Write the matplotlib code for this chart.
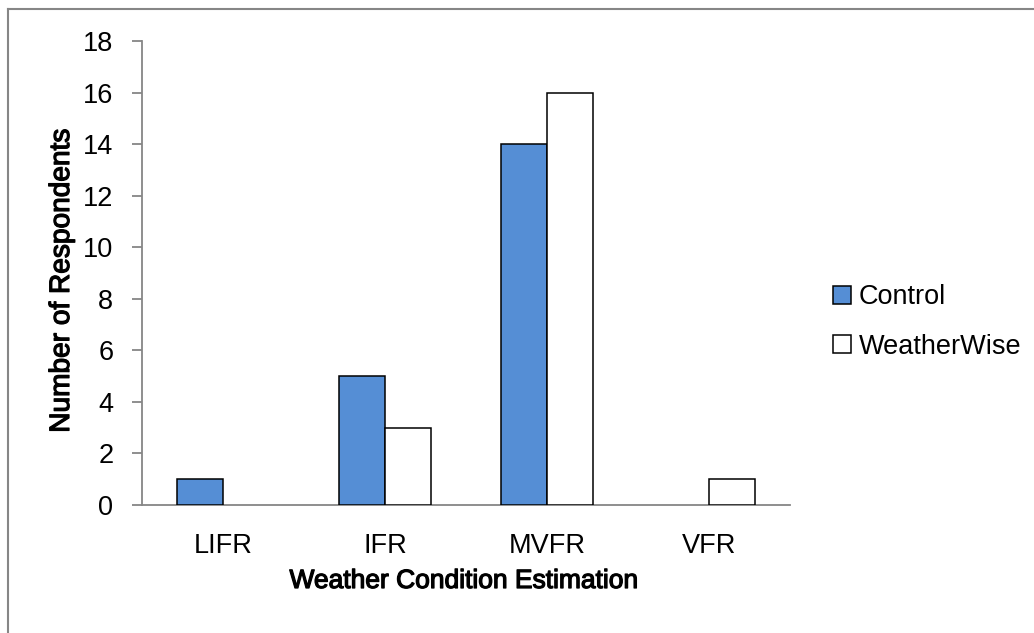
import matplotlib
matplotlib.use("Agg")
import matplotlib.pyplot as plt
import matplotlib.patheffects as pe
import numpy as np
from matplotlib.lines import Line2D

# Survey counts per weather category
categories = ["LIFR", "IFR", "MVFR", "VFR"]
control = [1, 5, 14, 0]
weatherwise = [0, 3, 16, 1]
y_ticks = list(range(0, 19, 2))

plt.rcParams["font.family"] = ["Liberation Sans", "DejaVu Sans"]

W, H = 1034, 633
fig = plt.figure(figsize=(W / 100, H / 100), dpi=100)
ax = fig.add_axes([142 / W, 1 - 505 / H, 648 / W, 464 / H])

grey = "#868686"
blue = "#558ED5"
x = np.arange(len(categories))
bw = 0.284

def edge_widths(vals):
    # hide the outline of zero-height bars
    return [1.1 if v > 0 else 0 for v in vals]

ax.bar(x - bw / 2, control, bw, color=blue, edgecolor="black",
       linewidth=edge_widths(control), label="Control", zorder=3)
ax.bar(x + bw / 2, weatherwise, bw, color="white", edgecolor="black",
       linewidth=edge_widths(weatherwise), label="WeatherWise", zorder=3)

ax.set_xlim(-0.5, len(categories) - 0.5)
ax.set_ylim(0, 18)
ax.set_yticks(y_ticks)
ax.set_xticks(x)
ax.set_xticklabels(categories)

for side in ("top", "right"):
    ax.spines[side].set_visible(False)
for side in ("left", "bottom"):
    ax.spines[side].set_color(grey)
    ax.spines[side].set_linewidth(1.3)

ax.tick_params(axis="y", length=7.2, width=1.3, color=grey, pad=13.5,
               labelsize=19.5)
ax.tick_params(axis="x", length=0, pad=20, labelsize=19.5)

# axis titles: regular face thickened with a thin stroke
heavy = [pe.withStroke(linewidth=0.9, foreground="black")]
fig.text(464 / W, 1 - 588 / H, "Weather Condition Estimation",
         ha="center", va="baseline", fontsize=19, path_effects=heavy)
fig.text(62 / W, 1 - 281 / H, "Number of Respondents", rotation=90,
         ha="center", va="center", fontsize=20.2, path_effects=heavy)

handles, labels = ax.get_legend_handles_labels()
leg = fig.legend(handles, labels, loc="center left",
                 bbox_to_anchor=(833 / W, 1 - 322 / H),
                 bbox_transform=fig.transFigure, frameon=False,
                 fontsize=19.5, borderpad=0, borderaxespad=0,
                 handlelength=0.65, handleheight=0.65, handletextpad=0.3,
                 labelspacing=0.85)
for h in leg.legend_handles:
    h.set_linewidth(1.1)

# chart border
fig.add_artist(Line2D([7.5 / W, 1.01], [1 - 8.5 / H] * 2, color=grey, lw=1.5))
fig.add_artist(Line2D([7.5 / W] * 2, [-0.01, 1 - 8.5 / H], color=grey, lw=1.5))

fig.savefig("out.png", dpi=100)
